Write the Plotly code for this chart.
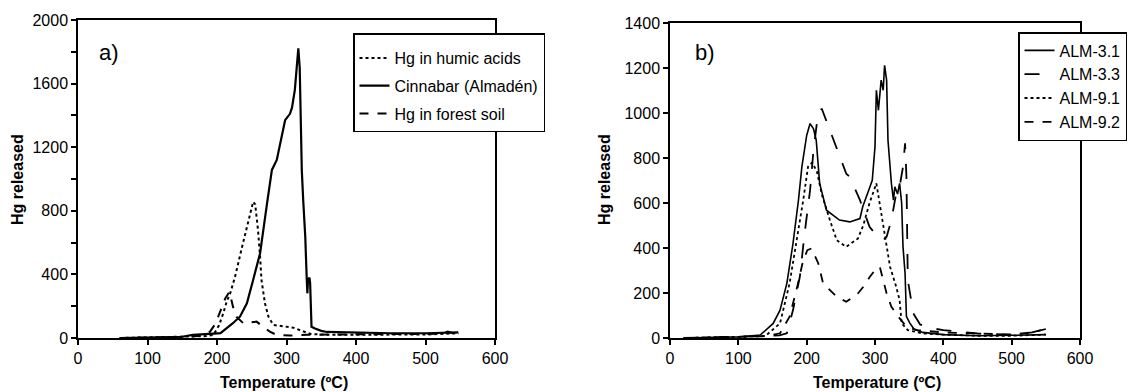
import plotly.graph_objects as go

# ---------------- Panel a) ----------------
humic_x = [60, 100, 150, 170, 185, 195, 203, 209, 214, 219, 226, 235, 245, 252, 255, 259, 262, 264, 269, 274, 281, 290, 300, 310, 320, 335, 360, 400, 450, 500, 548]
humic_y = [0, 3, 5, 8, 12, 20, 80, 155, 230, 281, 386, 553, 721, 857, 840, 679, 511, 365, 218, 134, 82, 78, 73, 65, 48, 25, 20, 20, 20, 22, 30]

cinn_x = [60, 100, 150, 165, 180, 195, 205, 214, 222, 233, 243, 252, 262, 272, 279, 286, 292, 298, 305, 308, 312, 315, 317, 319, 322, 324, 327, 329, 330, 331, 333, 334, 336, 341, 350, 358, 400, 450, 500, 547]
cinn_y = [0, 3, 8, 20, 22, 28, 31, 61, 90, 134, 218, 365, 533, 847, 1057, 1120, 1250, 1370, 1410, 1450, 1560, 1700, 1822, 1700, 1057, 870, 637, 386, 281, 365, 380, 345, 71, 60, 45, 38, 33, 30, 30, 35]

soil_x = [60, 100, 150, 180, 190, 198, 205, 212, 218, 223, 228, 238, 248, 257, 266, 276, 286, 305, 330, 400, 450, 500, 525, 532, 540, 548]
soil_y = [0, 3, 5, 15, 40, 92, 170, 250, 291, 197, 134, 92, 98, 103, 71, 40, 19, 15, 20, 25, 25, 25, 28, 40, 30, 30]

# ---------------- Panel b) ----------------
a31_x = [20, 60, 100, 120, 132, 151, 161, 171, 180, 188, 193, 200, 205, 210, 214, 219, 229, 248, 263, 278, 282, 290, 296, 300, 302, 305, 309, 312, 314, 317, 319, 324, 327, 329, 333, 336, 339, 341, 344, 346, 351, 357, 370, 400, 450, 500, 550]
a31_y = [0, 2, 5, 10, 13, 65, 124, 243, 420, 613, 761, 900, 953, 930, 879, 687, 568, 524, 516, 531, 583, 650, 701, 850, 1101, 1012, 1146, 1101, 1212, 1146, 879, 687, 613, 672, 640, 687, 600, 405, 287, 95, 66, 40, 25, 15, 10, 12, 15]

a33_x = [20, 60, 100, 140, 160, 171, 180, 190, 197, 205, 210, 216, 222, 239, 258, 263, 278, 292, 300, 312, 317, 324, 331, 336, 341, 344, 346, 348, 356, 366, 380, 400, 450, 500, 530, 550]
a33_y = [0, 2, 5, 8, 12, 21, 124, 272, 465, 657, 835, 980, 1020, 879, 730, 716, 613, 494, 465, 435, 450, 524, 643, 672, 761, 865, 716, 258, 110, 60, 45, 35, 20, 15, 25, 40]

a91_x = [20, 60, 100, 140, 161, 175, 185, 195, 202, 208, 215, 222, 234, 244, 258, 275, 283, 292, 302, 309, 317, 322, 331, 336, 339, 348, 370, 400, 450, 500, 550]
a91_y = [0, 2, 5, 10, 65, 243, 420, 613, 761, 780, 740, 640, 524, 435, 405, 442, 502, 600, 687, 553, 420, 317, 228, 169, 65, 35, 20, 15, 10, 10, 15]

a92_x = [20, 60, 100, 140, 161, 175, 185, 195, 201, 207, 217, 224, 244, 258, 275, 283, 292, 300, 307, 312, 317, 324, 334, 346, 361, 400, 450, 500, 530, 550]
a92_y = [0, 2, 5, 8, 21, 95, 213, 346, 390, 398, 332, 243, 183, 161, 198, 228, 270, 302, 317, 258, 198, 139, 95, 50, 35, 25, 20, 15, 25, 40]

W, H = 1139, 392
FONT = "Liberation Sans, Arial, sans-serif"

fig = go.Figure()

# panel a traces (legend 1)
fig.add_trace(go.Scatter(x=humic_x, y=humic_y, mode="lines", name="Hg in humic acids",
                         line=dict(color="black", width=2, dash="dot"),
                         xaxis="x", yaxis="y", legend="legend", legendgroup="a1"))
fig.add_trace(go.Scatter(x=cinn_x, y=cinn_y, mode="lines", name="Cinnabar (Almadén)",
                         line=dict(color="black", width=2.2),
                         xaxis="x", yaxis="y", legend="legend", legendgroup="a2"))
fig.add_trace(go.Scatter(x=soil_x, y=soil_y, mode="lines", name="Hg in forest soil",
                         line=dict(color="black", width=2, dash="dash"),
                         xaxis="x", yaxis="y", legend="legend", legendgroup="a3"))

# panel b traces (legend 2)
fig.add_trace(go.Scatter(x=a31_x, y=a31_y, mode="lines", name="ALM-3.1",
                         line=dict(color="black", width=1.6),
                         xaxis="x2", yaxis="y2", legend="legend2"))
fig.add_trace(go.Scatter(x=a33_x, y=a33_y, mode="lines", name="ALM-3.3",
                         line=dict(color="black", width=1.8, dash="longdash"),
                         xaxis="x2", yaxis="y2", legend="legend2"))
fig.add_trace(go.Scatter(x=a91_x, y=a91_y, mode="lines", name="ALM-9.1",
                         line=dict(color="black", width=1.8, dash="dot"),
                         xaxis="x2", yaxis="y2", legend="legend2"))
fig.add_trace(go.Scatter(x=a92_x, y=a92_y, mode="lines", name="ALM-9.2",
                         line=dict(color="black", width=1.8, dash="dash"),
                         xaxis="x2", yaxis="y2", legend="legend2"))

axis_common = dict(showline=True, linecolor="black", linewidth=1.5, mirror=True,
                   showgrid=False, zeroline=False, ticks="outside", ticklen=5,
                   tickwidth=1.5, tickcolor="black",
                   tickfont=dict(family=FONT, size=16, color="black"),
                   automargin=False)

fig.update_layout(
    width=W, height=H,
    margin=dict(l=0, r=0, t=0, b=0),
    paper_bgcolor="white", plot_bgcolor="white",
    xaxis=dict(domain=[78 / W, 495 / W], range=[0, 600], dtick=100, anchor="y", **axis_common),
    yaxis=dict(domain=[(H - 338) / H, (H - 20) / H], range=[0, 2000], dtick=400, anchor="x",
               minor=dict(dtick=200, ticks="outside", ticklen=5, tickwidth=1.5, tickcolor="black"),
               **axis_common),
    xaxis2=dict(domain=[670 / W, 1080 / W], range=[0, 600], dtick=100, anchor="y2", **axis_common),
    yaxis2=dict(domain=[(H - 338) / H, (H - 23) / H], range=[0, 1400], dtick=200, anchor="x2", **axis_common),
    legend=dict(x=353 / W, y=1 - 33 / H, xanchor="left", yanchor="top",
                bordercolor="black", borderwidth=1.5, bgcolor="white",
                font=dict(family=FONT, size=16, color="black"),
                title=dict(text=" ", font=dict(size=5)),
                traceorder="grouped", tracegroupgap=4),
    legend2=dict(x=1018 / W, y=1 - 32 / H, xanchor="left", yanchor="top",
                 bordercolor="black", borderwidth=1.5, bgcolor="white",
                 font=dict(family=FONT, size=16, color="black"),
                 traceorder="normal"),
    showlegend=True,
)

annotations = [
    dict(text="a)", x=97 / W, y=1 - 52 / H, xref="paper", yref="paper", xanchor="left", yanchor="middle",
         showarrow=False, font=dict(family=FONT, size=22, color="black")),
    dict(text="b)", x=693 / W, y=1 - 52 / H, xref="paper", yref="paper", xanchor="left", yanchor="middle",
         showarrow=False, font=dict(family=FONT, size=22, color="black")),
    dict(text="<b>Hg released</b>", x=18 / W, y=1 - 180 / H, xref="paper", yref="paper", textangle=-90,
         xanchor="center", yanchor="middle", showarrow=False, font=dict(family=FONT, size=16, color="black")),
    dict(text="<b>Hg released</b>", x=605 / W, y=1 - 180 / H, xref="paper", yref="paper", textangle=-90,
         xanchor="center", yanchor="middle", showarrow=False, font=dict(family=FONT, size=16, color="black")),
    dict(text="<b>Temperature (ºC)</b>", x=284 / W, y=1 - 382 / H, xref="paper", yref="paper",
         xanchor="center", yanchor="middle", showarrow=False, font=dict(family=FONT, size=16, color="black")),
    dict(text="<b>Temperature (ºC)</b>", x=877 / W, y=1 - 382 / H, xref="paper", yref="paper",
         xanchor="center", yanchor="middle", showarrow=False, font=dict(family=FONT, size=16, color="black")),
]
fig.update_layout(annotations=annotations)

fig.write_html("out.html")
